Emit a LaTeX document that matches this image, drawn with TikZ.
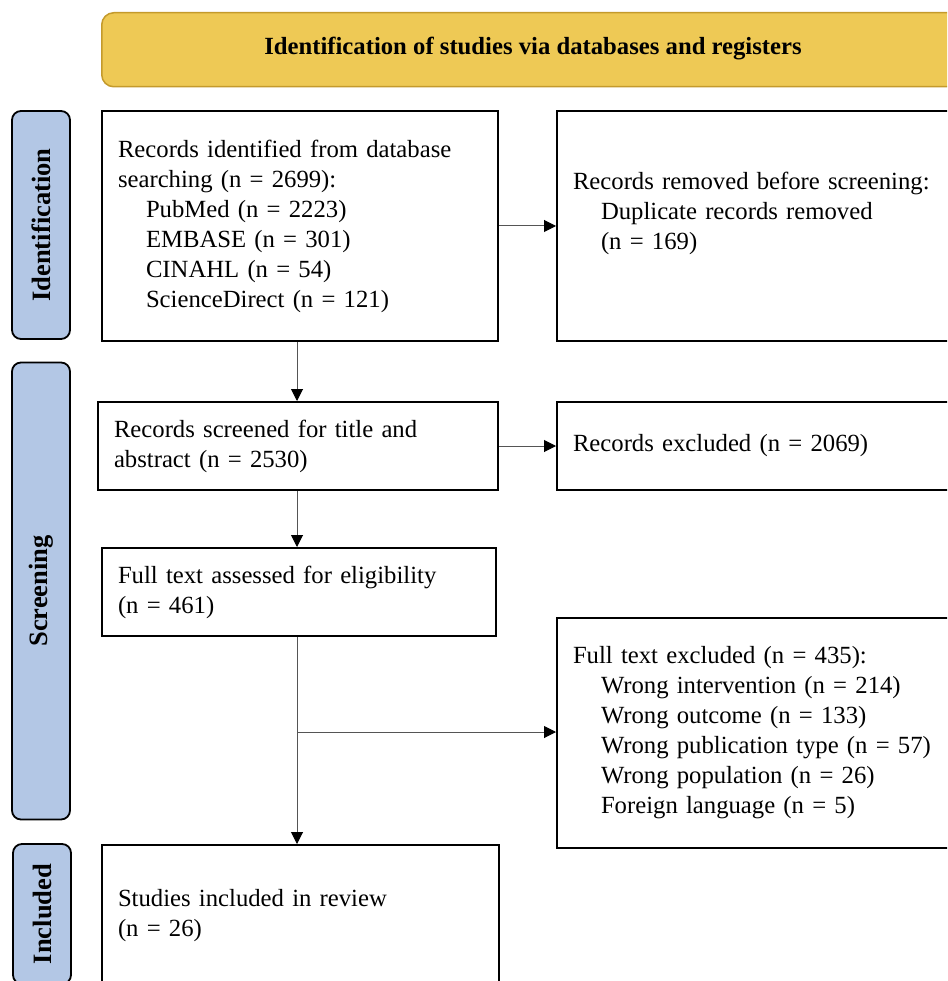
\documentclass[tikz,border=0pt]{standalone}
\usepackage{fontspec}
\setmainfont{Liberation Serif}
\usepackage{xcolor}
\usetikzlibrary{arrows.meta}
\definecolor{bannerfill}{HTML}{EEC955}
\definecolor{bannerline}{HTML}{C49A2C}
\definecolor{phasefill}{HTML}{B3C7E5}
\definecolor{flowgray}{HTML}{555555}
\tikzset{
  box/.style={draw, line width=2pt, rectangle, inner xsep=16pt, inner ysep=0pt,
    align=left, anchor=north west, font=\fontsize{24.7}{30}\selectfont},
  phase/.style={draw, line width=1.8pt, fill=phasefill, rounded corners=9pt, rotate=90,
    minimum height=58pt, inner sep=0pt, font=\bfseries\fontsize{26.5}{30}\selectfont},
  flow/.style={flowgray, line width=1pt, -{Triangle[length=12pt,width=12pt,color=black]}}
}
\newcommand{\ind}{\hspace*{28pt}}
\begin{document}
\begin{tikzpicture}[x=1pt,y=-1pt]
\useasboundingbox (0,0) rectangle (947,981);
\clip (0,0) rectangle (947,981);
\node [draw=bannerline, line width=1.5pt, fill=bannerfill, rounded corners=12pt, minimum width=900pt, minimum height=74pt, anchor=north west, inner sep=0pt] (banner) at (101,12) {};
\node [font=\bfseries\fontsize{24.7}{30}\selectfont] (bannertext) at (533,49) {Identification of studies via databases and registers};
\node [phase, minimum width=228pt] (idph) at (41,225) {Identification};
\node [phase, minimum width=457pt] (scph) at (41,591) {Screening};
\node [phase, minimum width=140pt] (inph) at (42,914) {Included};
\node [box, minimum height=230pt, text width=364pt] (ident) at (101,110) {Records identified from database\\searching (n = 2699):\\\ind PubMed (n = 2223)\\\ind EMBASE (n = 301)\\\ind CINAHL (n = 54)\\\ind ScienceDirect (n = 121)};
\node [box, minimum height=230pt, text width=388pt] (removed) at (556,110) {Records removed before screening:\\\ind Duplicate records removed\\\ind (n = 169)\\\mbox{}};
\node [box, minimum height=88pt, text width=368pt] (screen) at (97,401) {Records screened for title and\\abstract (n = 2530)};
\node [box, minimum height=88pt, text width=388pt] (excl) at (556,401) {Records excluded (n = 2069)};
\node [box, minimum height=88pt, text width=362pt] (full) at (101,547) {Full text assessed for eligibility\\(n = 461)};
\node [box, minimum height=230pt, text width=388pt] (fullexcl) at (556,617) {Full text excluded (n = 435):\\\ind Wrong intervention (n = 214)\\\ind Wrong outcome (n = 133)\\\ind Wrong publication type (n = 57)\\\ind Wrong population (n = 26)\\\ind Foreign language (n = 5)};
\node [box, minimum height=142pt, text width=365pt] (incl) at (101,844) {Studies included in review\\(n = 26)};
\coordinate (split) at (297,732);
\draw [flow] (ident.east) -- (removed.west);
\draw [flow] (screen.east) -- (excl.west);
\draw [flow] (split) -- (split -| fullexcl.west);
\draw [flow] (ident.south -| split) -- (screen.north -| split);
\draw [flow] (screen.south -| split) -- (full.north -| split);
\draw [flow] (full.south -| split) -- (incl.north -| split);
\end{tikzpicture}
\end{document}
